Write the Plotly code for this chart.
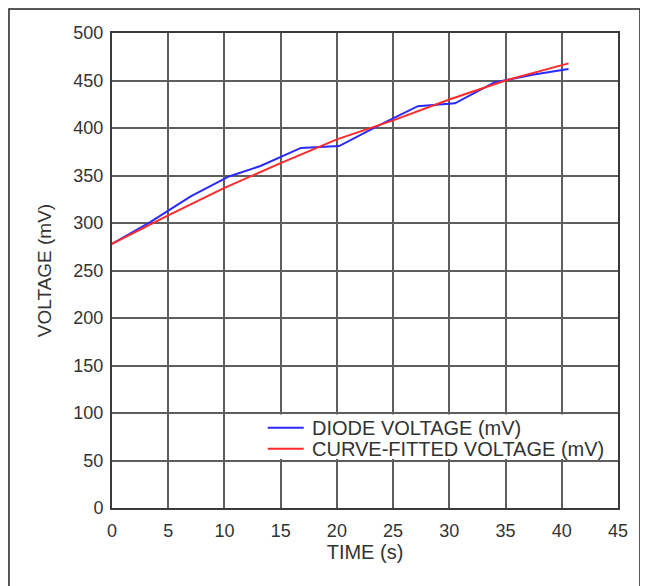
import plotly.graph_objects as go

diode_time = [0, 3.4, 7.0, 10.4, 13.2, 16.8, 20.2, 23.6, 27.2, 30.5, 34.0, 37.4, 40.6]
diode_mv = [278, 301, 328, 349, 360, 379, 381, 402, 423, 426, 448, 456, 462]

fit_time = [0, 5, 10, 15, 20, 25, 30, 35, 40.6]
fit_mv = [278, 308, 337, 363, 388, 408, 430, 450, 468]

x_ticks = [0, 5, 10, 15, 20, 25, 30, 35, 40, 45]
y_ticks = [0, 50, 100, 150, 200, 250, 300, 350, 400, 450, 500]

series_names = ["DIODE VOLTAGE (mV)", "CURVE-FITTED VOLTAGE (mV)"]
series_colors = ["#2a2aff", "#ff2a2a"]

font = "Liberation Sans, Arial, sans-serif"
txt = "#333333"

fig = go.Figure()
fig.add_trace(go.Scatter(x=diode_time, y=diode_mv, mode="lines",
                         line=dict(color=series_colors[0], width=2),
                         name=series_names[0]))
fig.add_trace(go.Scatter(x=fit_time, y=fit_mv, mode="lines",
                         line=dict(color=series_colors[1], width=2),
                         name=series_names[1]))

# legend drawn inside the plot (white box hiding vertical gridlines)
shapes = [
    dict(type="rect", xref="paper", yref="paper",
         x0=-0.2036, x1=1.0435, y0=-0.25, y1=1.0505,
         line=dict(color="#222222", width=1.5), layer="below"),
    dict(type="rect", xref="x", yref="y", x0=13.05, x1=44.9, y0=51.5, y1=98.5,
         fillcolor="white", line=dict(width=0), layer="between"),
]
annotations = []
legend_rows_y = [84.5, 62.5]
for name, color, ly in zip(series_names, series_colors, legend_rows_y):
    shapes.append(dict(type="line", xref="x", yref="y", x0=13.85, x1=17.05, y0=ly, y1=ly,
                       line=dict(color=color, width=2), layer="above"))
    annotations.append(dict(x=17.65, y=ly, xref="x", yref="y", text=name,
                            showarrow=False, xanchor="left", yanchor="middle",
                            font=dict(family=font, size=20, color=txt)))

fig.update_layout(
    width=648, height=586,
    margin=dict(l=104, r=38, t=25, b=86),
    paper_bgcolor="white", plot_bgcolor="white",
    font=dict(family=font, size=18, color=txt),
    showlegend=False,
    xaxis=dict(range=[0, 45], tickvals=x_ticks, ticktext=[str(v) for v in x_ticks],
               showgrid=True, gridcolor="#5e5e5e", gridwidth=1.5,
               showline=True, linecolor="#3a3a3a", linewidth=2, mirror=True,
               zeroline=False, ticks="outside", ticklen=5, tickcolor="rgba(0,0,0,0)",
               tickfont=dict(family=font, size=18, color=txt),
               title=dict(text="TIME (s)", standoff=5,
                          font=dict(family=font, size=20, color=txt))),
    yaxis=dict(range=[0, 500], tickvals=y_ticks, ticktext=[str(v) for v in y_ticks],
               showgrid=True, gridcolor="#5e5e5e", gridwidth=1.5,
               showline=True, linecolor="#3a3a3a", linewidth=2, mirror=True,
               zeroline=False, ticks="outside", ticklen=3, tickcolor="rgba(0,0,0,0)",
               tickfont=dict(family=font, size=18, color=txt),
               title=dict(text="VOLTAGE (mV)", standoff=17,
                          font=dict(family=font, size=19, color=txt))),
    shapes=shapes,
    annotations=annotations,
)

fig.write_html("out.html")
